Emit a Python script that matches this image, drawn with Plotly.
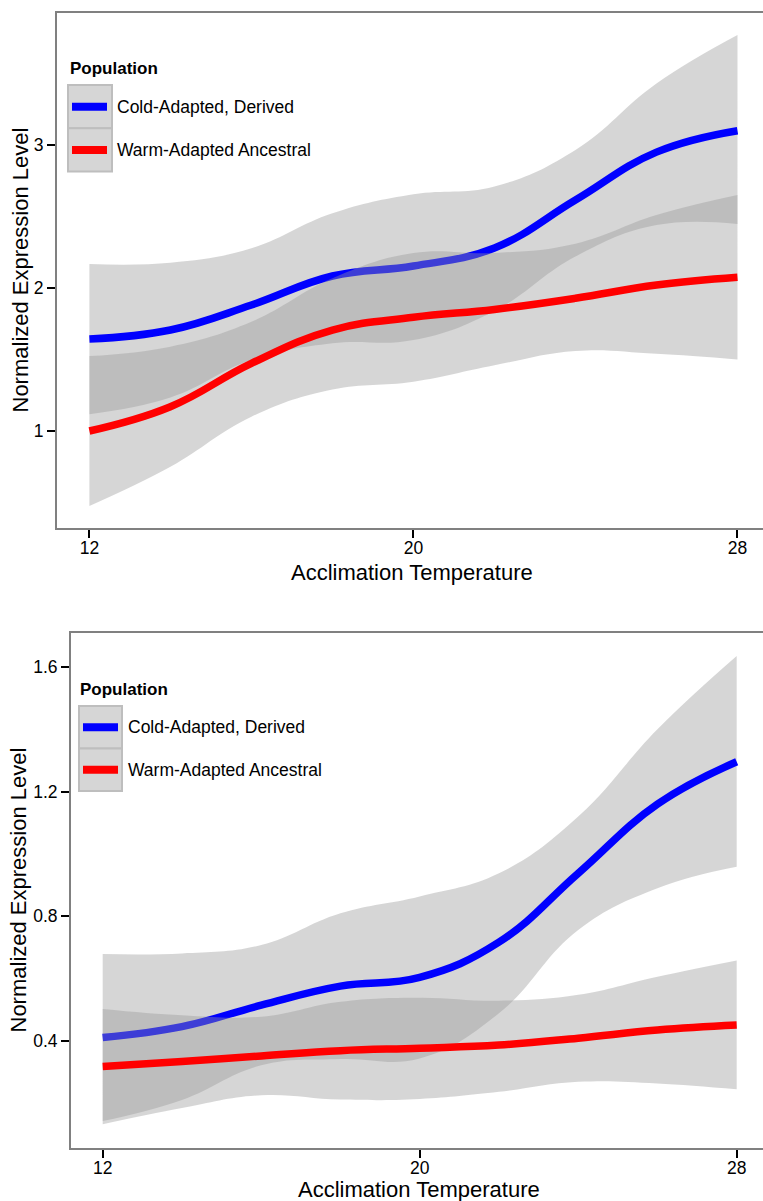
import plotly.graph_objects as go

# ---------------- data ----------------
temps = [12, 14, 16, 18, 20, 22, 24, 26, 28]
x_ticks = [12, 20, 28]

# Top panel
cold_fit_top = [1.643, 1.706, 1.881, 2.084, 2.154, 2.28, 2.615, 2.95, 3.10]
cold_hi_top = [2.168, 2.177, 2.278, 2.522, 2.655, 2.71, 2.965, 3.43, 3.769]
cold_lo_top = [1.118, 1.235, 1.497, 1.613, 1.636, 1.84, 2.22, 2.44, 2.448]
warm_fit_top = [1.0, 1.17, 1.473, 1.706, 1.795, 1.85, 1.928, 2.021, 2.075]
warm_hi_top = [1.524, 1.59, 1.764, 2.068, 2.245, 2.245, 2.31, 2.51, 2.65]
warm_lo_top = [0.476, 0.75, 1.10, 1.29, 1.345, 1.46, 1.56, 1.54, 1.50]
y_ticks_top = [1, 2, 3]

# Bottom panel
cold_fit_bot = [0.411, 0.446, 0.515, 0.576, 0.604, 0.717, 0.938, 1.16, 1.296]
cold_hi_bot = [0.679, 0.681, 0.708, 0.81, 0.864, 0.938, 1.12, 1.40, 1.635]
cold_lo_bot = [0.143, 0.211, 0.322, 0.342, 0.344, 0.489, 0.756, 0.89, 0.959]
warm_fit_bot = [0.318, 0.334, 0.352, 0.369, 0.377, 0.387, 0.409, 0.435, 0.451]
warm_hi_bot = [0.503, 0.483, 0.478, 0.526, 0.539, 0.529, 0.548, 0.606, 0.658]
warm_lo_bot = [0.133, 0.185, 0.226, 0.212, 0.214, 0.237, 0.269, 0.264, 0.245]
y_ticks_bot = [0.4, 0.8, 1.2, 1.6]
y_tick_text_bot = ["0.4", "0.8", "1.2", "1.6"]

series_names = ["Cold-Adapted, Derived", "Warm-Adapted Ancestral"]
series_colors = ["#0000ff", "#ff0000"]
legend_title = "Population"
x_title = "Acclimation Temperature"
y_title = "Normalized Expression Level"

# ---------------- styling ----------------
W, H = 763, 1201
FONT = "Liberation Sans, Arial, sans-serif"
RIBBON = "rgba(153,153,153,0.4)"
LINE_W = 7.5
SMOOTH = 1.2


def px_x(p):
    return p / W


def px_y(p):
    return 1 - p / H


fig = go.Figure()


def add_series(xa, ya, fit, lo, hi, color, name):
    fig.add_trace(go.Scatter(x=temps, y=hi, mode="lines",
                             line=dict(width=0, shape="spline", smoothing=SMOOTH, color=RIBBON),
                             xaxis=xa, yaxis=ya, showlegend=False, hoverinfo="skip"))
    fig.add_trace(go.Scatter(x=temps, y=lo, mode="lines",
                             line=dict(width=0, shape="spline", smoothing=SMOOTH, color=RIBBON),
                             fill="tonexty", fillcolor=RIBBON,
                             xaxis=xa, yaxis=ya, showlegend=False, hoverinfo="skip"))
    fig.add_trace(go.Scatter(x=temps, y=fit, mode="lines", name=name,
                             line=dict(width=LINE_W, shape="spline", smoothing=SMOOTH, color=color),
                             xaxis=xa, yaxis=ya, showlegend=False))


add_series("x", "y", cold_fit_top, cold_lo_top, cold_hi_top, series_colors[0], series_names[0])
add_series("x", "y", warm_fit_top, warm_lo_top, warm_hi_top, series_colors[1], series_names[1])
add_series("x2", "y2", cold_fit_bot, cold_lo_bot, cold_hi_bot, series_colors[0], series_names[0])
add_series("x2", "y2", warm_fit_bot, warm_lo_bot, warm_hi_bot, series_colors[1], series_names[1])

axis_common = dict(
    showgrid=False, zeroline=False, showline=True, linecolor="#808080", linewidth=2,
    mirror=True, ticks="outside", ticklen=8, tickwidth=2, tickcolor="#000000",
    tickfont=dict(family=FONT, size=17.5, color="#000000"), automargin=False,
)

# panel geometry (pixels)
top_box = dict(l=57, t=13, b=528)
bot_box = dict(l=71, t=633, b=1148)

fig.update_layout(
    width=W, height=H, margin=dict(l=0, r=0, t=0, b=0),
    paper_bgcolor="white", plot_bgcolor="white", showlegend=False,
    xaxis=dict(domain=[px_x(top_box["l"]), 1], range=[11.2, 28.63], tickvals=x_ticks,
               anchor="y", ticklabelstandoff=-5, **axis_common),
    yaxis=dict(domain=[px_y(top_box["b"]), px_y(top_box["t"])], range=[0.3217, 3.923],
               tickvals=y_ticks_top, anchor="x", **axis_common),
    xaxis2=dict(domain=[px_x(bot_box["l"]), 1], range=[11.2, 28.664], tickvals=x_ticks,
                anchor="y2", ticklabelstandoff=-5, **axis_common),
    yaxis2=dict(domain=[px_y(bot_box["b"]), px_y(bot_box["t"])], range=[0.0567, 1.709],
                tickvals=y_ticks_bot, ticktext=y_tick_text_bot, anchor="x2", **axis_common),
)

shapes = []
annotations = []


def add_legend(title_x, title_y, box_l, box_t, box_w, box_h, line_l, line_r, label_x):
    annotations.append(dict(x=px_x(title_x), y=px_y(title_y), xref="paper", yref="paper",
                            text="<b>%s</b>" % legend_title, showarrow=False,
                            xanchor="left", yanchor="middle",
                            font=dict(family=FONT, size=17, color="#000000")))
    for i, (nm, col) in enumerate(zip(series_names, series_colors)):
        t = box_t + i * box_h
        cy = t + box_h / 2
        shapes.append(dict(type="rect", xref="paper", yref="paper",
                           x0=px_x(box_l), x1=px_x(box_l + box_w), y0=px_y(t + box_h), y1=px_y(t),
                           fillcolor="#d6d6d6", line=dict(color="#bebebe", width=2), layer="above"))
        shapes.append(dict(type="line", xref="paper", yref="paper",
                           x0=px_x(line_l), x1=px_x(line_r), y0=px_y(cy), y1=px_y(cy),
                           line=dict(color=col, width=8), layer="above"))
        annotations.append(dict(x=px_x(label_x), y=px_y(cy), xref="paper", yref="paper",
                                text=nm, showarrow=False, xanchor="left", yanchor="middle",
                                font=dict(family=FONT, size=17.5, color="#000000")))


add_legend(68, 68, 68, 85, 44, 43.3, 72, 107, 115)
add_legend(78, 689, 79, 706, 43, 42.5, 83, 118, 126)


def add_axis_titles(xc, xy, yx, yc):
    annotations.append(dict(x=px_x(xc), y=px_y(xy), xref="paper", yref="paper", text=x_title,
                            showarrow=False, xanchor="center", yanchor="middle",
                            font=dict(family=FONT, size=22, color="#000000")))
    annotations.append(dict(x=px_x(yx), y=px_y(yc), xref="paper", yref="paper", text=y_title,
                            showarrow=False, xanchor="center", yanchor="middle", textangle=-90,
                            font=dict(family=FONT, size=22, color="#000000")))


add_axis_titles(412.5, 572, 20, 270.5)
add_axis_titles(419, 1189, 18, 890.5)

fig.update_layout(shapes=shapes, annotations=annotations)

fig.write_html("out.html")
